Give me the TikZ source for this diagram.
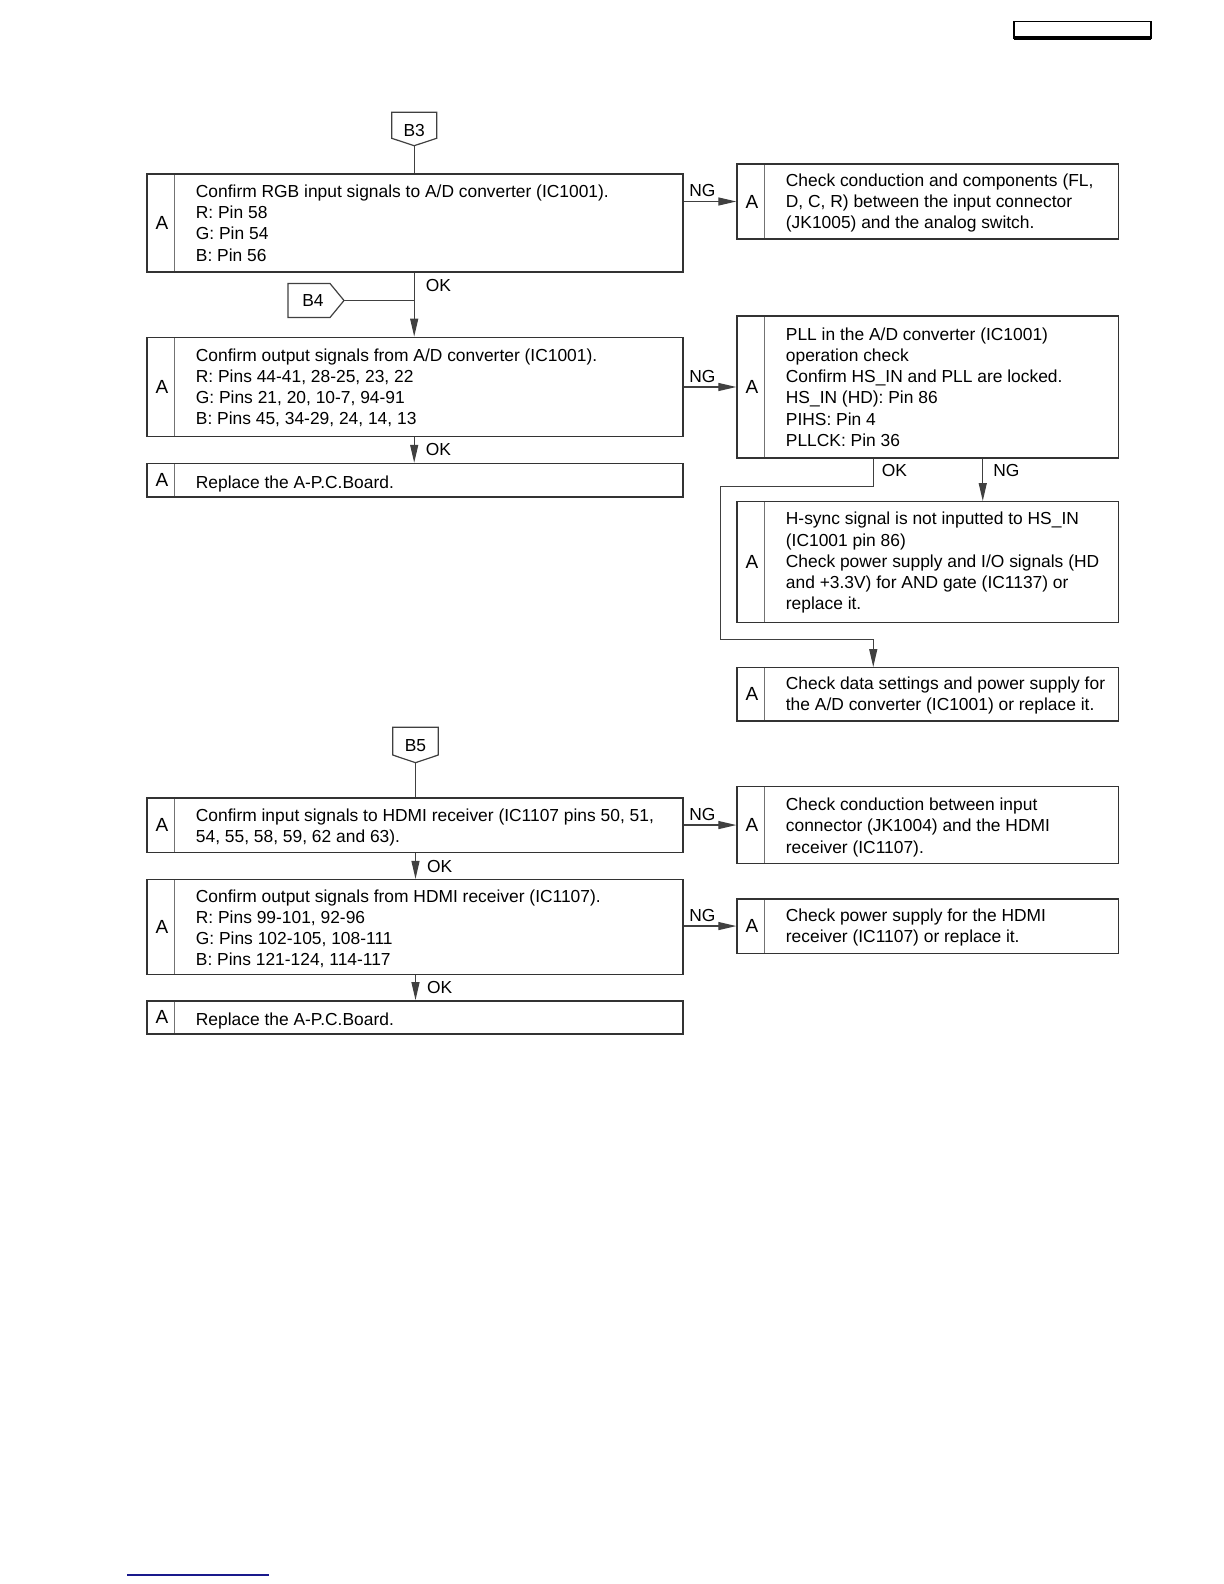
\documentclass[tikz,border=0pt]{standalone}
\usepackage{fontspec}
\setmainfont{Liberation Sans}
\usetikzlibrary{arrows.meta, positioning, fit, calc}
\definecolor{linkblue}{RGB}{25,25,140}

\begin{document}
\begin{tikzpicture}[
    x=0.5pt, y=-0.5pt,
    font=\fontsize{8.7pt}{10.6pt}\selectfont,
    line width=0.6pt,
    arr/.style={-{Triangle[length=9pt, width=4pt]}, draw=black!75},
    con/.style={draw=black!75},
    abox/.style={rectangle, draw=black!80, inner sep=0pt, line width=0.7pt,
        label={[anchor=center, xshift=7.8pt, font=\fontsize{9.5pt}{11pt}\selectfont]west:A},
        path picture={\draw[black!55, line width=0.5pt]
            ([xshift=13.7pt]path picture bounding box.north west) --
            ([xshift=13.7pt]path picture bounding box.south west);}},
    txt/.style={anchor=west, align=left, inner sep=0pt, text depth=0pt},
    tag/.style={inner sep=0pt},
    lbl/.style={inner sep=0pt},
]
\useasboundingbox (0,0) rectangle (1224,1584);

% page header box
\draw[line width=0.8pt] (1014,21.5) rectangle (1151,38);
\draw[line width=1.6pt] (1014,38) -- (1151,38);

% --- B3 ---
\node[tag] (b3tag) at (414.2,130.5) {B3};
\draw[con] ($(b3tag)+(-22.5,-18.2)$) -- ++(45,0) -- ++(0,26) -- ++(-22.5,7.4) -- ++(-22.5,-7.4) -- cycle;
\coordinate (b3tip) at ($(b3tag)+(0,15.2)$);

\node[abox, fit={(147,174) (683,272)}] (b1) {};
\node[txt] (b1t) at ($(b1.west)+(49,0)$) {Confirm RGB input signals to A/D converter (IC1001).\\R: Pin 58\\G: Pin 54\\B: Pin 56};

\node[abox, fit={(737,164) (1118.5,239)}] (c1) {};
\node[txt] (c1t) at ($(c1.west)+(49,-0.5)$) {Check conduction and components (FL,\\D, C, R) between the input connector\\(JK1005) and the analog switch.};

\node[tag] (b4tag) at (313,300.5) {B4};
\draw[con] ($(b4tag)+(-25,-17)$) -- ++(42,0) -- ++(14,17) -- ++(-14,17) -- ++(-42,0) -- cycle;
\coordinate (b4tip) at ($(b4tag)+(31,0)$);

\node[abox, fit={(147,337.3) (683,436.3)}] (b2) {};
\node[txt] (b2t) at ($(b2.west)+(49,0)$) {Confirm output signals from A/D converter (IC1001).\\R: Pins 44-41, 28-25, 23, 22\\G: Pins 21, 20, 10-7, 94-91\\B: Pins 45, 34-29, 24, 14, 13};

\node[abox, fit={(147,463.5) (683,497)}] (b3) {};
\node[txt] (b3t) at ($(b3.west)+(49,1.5)$) {Replace the A-P.C.Board.};

\node[abox, fit={(737,316) (1118.5,458)}] (c2) {};
\node[txt] (c2t) at ($(c2.west)+(49,0)$) {PLL in the A/D converter (IC1001)\\operation check\\Confirm HS\_IN and PLL are locked.\\HS\_IN (HD): Pin 86\\PIHS: Pin 4\\PLLCK: Pin 36};

\node[abox, fit={(737,501.7) (1118.5,622.3)}] (c3) {};
\node[txt] (c3t) at ($(c3.west)+(49,-1)$) {H-sync signal is not inputted to HS\_IN\\(IC1001 pin 86)\\Check power supply and I/O signals (HD\\and +3.3V) for AND gate (IC1137) or\\replace it.};

\node[abox, fit={(737,667.7) (1118.5,721)}] (c4) {};
\node[txt] (c4t) at ($(c4.west)+(49,-1)$) {Check data settings and power supply for\\the A/D converter (IC1001) or replace it.};

% connectors, upper part
\draw[con] (b3tip) -- (b3tip |- b1.north);
\draw[arr] (b3tip |- b1.south) -- node[lbl, pos=0.2, right=5.5pt] {OK} (b3tip |- b2.north);
\draw[con] (b4tip) -- (b4tip -| b3tip);
\draw[arr] (b3tip |- b2.south) -- node[lbl, right=5.5pt] {OK} (b3tip |- b3.north);
\draw[arr] (c1.west -| b1.east) -- node[lbl, pos=0, above right=2pt and 2.5pt] {NG} (c1.west);
\draw[arr] (c2.west -| b2.east) -- node[lbl, pos=0, above right=2pt and 2.5pt] {NG} (c2.west);
\coordinate (okc) at ($(c2.south)+(-54.5,0)$);
\draw[arr] (okc) -- node[lbl, pos=0.44, right=4pt] {OK} ++(0,27.7) -| ($(c3.south west)+(-16,16.7)$) -| (okc |- c4.north);
\draw[arr] ($(c2.south)+(55,0)$) -- node[lbl, pos=0.27, right=5pt] {NG} ($(c3.north)+(55,0)$);

% --- B5 ---
\node[tag] (b5tag) at (415.5,746) {B5};
\draw[con] ($(b5tag)+(-22.8,-18.7)$) -- ++(45.6,0) -- ++(0,27.7) -- ++(-22.8,7.7) -- ++(-22.8,-7.7) -- cycle;
\coordinate (b5tip) at ($(b5tag)+(0,16.7)$);

\node[abox, fit={(147,797.8) (683,852.4)}] (d1) {};
\node[txt] (d1t) at ($(d1.west)+(49,0.5)$) {Confirm input signals to HDMI receiver (IC1107 pins 50, 51,\\54, 55, 58, 59, 62 and 63).};

\node[abox, fit={(737,786.7) (1118.5,863.4)}] (e1) {};
\node[txt] (e1t) at ($(e1.west)+(49,0.5)$) {Check conduction between input\\connector (JK1004) and the HDMI\\receiver (IC1107).};

\node[abox, fit={(147,879.6) (683,974.6)}] (d2) {};
\node[txt] (d2t) at ($(d2.west)+(49,0.5)$) {Confirm output signals from HDMI receiver (IC1107).\\R: Pins 99-101, 92-96\\G: Pins 102-105, 108-111\\B: Pins 121-124, 114-117};

\node[abox, fit={(737,898.8) (1118.5,953.3)}] (e2) {};
\node[txt] (e2t) at ($(e2.west)+(49,0)$) {Check power supply for the HDMI\\receiver (IC1107) or replace it.};

\node[abox, fit={(147,1000.8) (683,1034)}] (d3) {};
\node[txt] (d3t) at ($(d3.west)+(49,1.5)$) {Replace the A-P.C.Board.};

% connectors, lower part
\draw[con] (b5tip) -- (b5tip |- d1.north);
\draw[arr] (b5tip |- d1.south) -- node[lbl, right=5.5pt] {OK} (b5tip |- d2.north);
\draw[arr] (b5tip |- d2.south) -- node[lbl, right=5.5pt] {OK} (b5tip |- d3.north);
\draw[arr] (e1.west -| d1.east) -- node[lbl, pos=0, above right=2pt and 2.5pt] {NG} (e1.west);
\draw[arr] (e2.west -| d2.east) -- node[lbl, pos=0, above right=2pt and 2.5pt] {NG} (e2.west);

% link underline
\draw[linkblue, line width=1pt] (127,1575) -- (269,1575);
\end{tikzpicture}
\end{document}
